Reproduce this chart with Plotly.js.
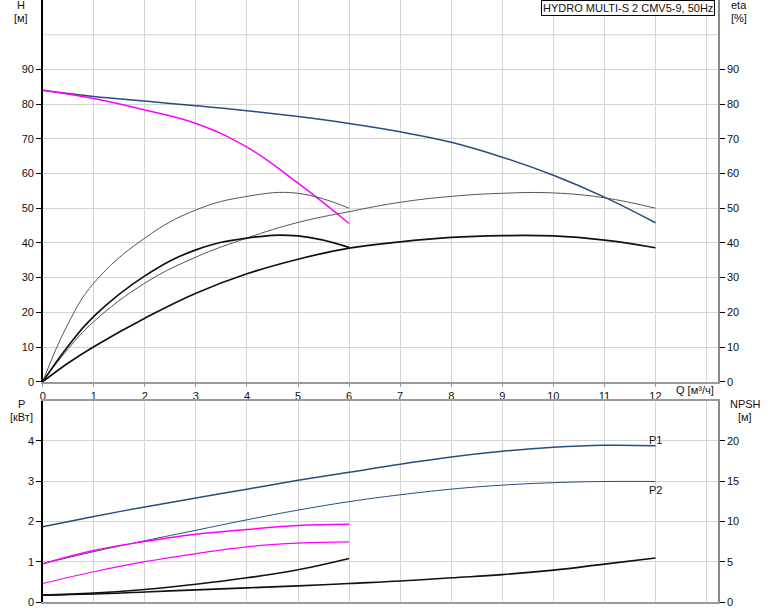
<!DOCTYPE html>
<html>
<head>
<meta charset="utf-8">
<script src="https://cdn.plot.ly/plotly-3.0.1.min.js"></script>
<style>html,body{margin:0;padding:0;background:#fff;}#chart{width:774px;height:611px;}</style>
</head>
<body>
<div id="chart"></div>
<script>
// ---- data ----
const Q = [0,1,2,3,4,5,6,7,8,9,10,11,12];
const Qr = [0,1,2,3,4,5,6];
const QEta = [0,0.5,1,2,3,4,5,6,7,8,9,10,11,12];
const QrEta = [0,0.5,1,2,3,4,5,6];

const H = [84,82.2,80.9,79.5,78.1,76.4,74.4,72,69,64.7,59.5,53.2,45.8];
const Hr = [84,81.6,78.3,74.4,67.6,57.2,45.6];

const etaA = [0,16.8,28.4,41.4,49.5,53.4,54.3,50];
const etaB = [0,10.3,18.8,30.5,38,41.4,42,38.7];
const etaC = [0,9.5,17.3,28.4,35.9,41.4,45.9,49,51.7,53.4,54.3,54.4,53,50];
const etaD = [0,5.4,10.1,18.3,25.5,31.1,35.3,38.5,40.3,41.6,42.1,42,40.8,38.6];

const P1 = [1.87,2.12,2.36,2.58,2.8,3.02,3.22,3.42,3.6,3.74,3.84,3.89,3.88];
const P2 = [0.95,1.25,1.52,1.78,2.04,2.28,2.49,2.66,2.8,2.9,2.96,2.99,2.99];
const P1r = [0.95,1.28,1.5,1.68,1.8,1.9,1.93];
const P2r = [0.46,0.75,1.0,1.2,1.37,1.46,1.49];

const NPSH = [0.85,1.0,1.25,1.5,1.75,2.0,2.3,2.6,3.0,3.4,3.95,4.7,5.45];
const NPSHr = [0.85,1.1,1.55,2.2,3.0,4.0,5.4];

const xTicks = [0,1,2,3,4,5,6,7,8,9,10,11,12];
const hTicks = [0,10,20,30,40,50,60,70,80,90];
const pTicks = [0,1,2,3,4];
const nTicks = [0,5,10,15,20];

// ---- plot ----
const blue = '#244e7d';
const mag = '#ff00ff';
function ln(color,width,s){return {color:color,width:width,shape:'spline',smoothing:(s===undefined?1.2:s)};}

const traces = [
  {x:QEta, y:etaC, xaxis:'x', yaxis:'y2', mode:'lines', line:ln('#555',1)},
  {x:QEta, y:etaD, xaxis:'x', yaxis:'y2', mode:'lines', line:ln('#111',1.7)},
  {x:QrEta, y:etaA, xaxis:'x', yaxis:'y2', mode:'lines', line:ln('#555',1)},
  {x:QrEta, y:etaB, xaxis:'x', yaxis:'y2', mode:'lines', line:ln('#111',1.7)},
  {x:Q, y:H, xaxis:'x', yaxis:'y', mode:'lines', line:ln(blue,1.5)},
  {x:Qr, y:Hr, xaxis:'x', yaxis:'y', mode:'lines', line:ln(mag,1.5)},

  {x:Q, y:P1, xaxis:'x2', yaxis:'y3', mode:'lines', line:ln(blue,1.5)},
  {x:Q, y:P2, xaxis:'x2', yaxis:'y3', mode:'lines', line:ln(blue,1)},
  {x:Qr, y:P1r, xaxis:'x2', yaxis:'y3', mode:'lines', line:ln(mag,1.5)},
  {x:Qr, y:P2r, xaxis:'x2', yaxis:'y3', mode:'lines', line:ln(mag,1.2)},
  {x:Q, y:NPSH, xaxis:'x2', yaxis:'y4', mode:'lines', line:ln('#111',1.6)},
  {x:Qr, y:NPSHr, xaxis:'x2', yaxis:'y4', mode:'lines', line:ln('#111',1.6)}
];

const xd = [42.7/774, 718.3/774];
const topD = [1-381.7/611, 1];
const botD = [1-602/611, 1-400.5/611];
const tf = {family:'Liberation Sans, Arial, sans-serif', size:11, color:'#111'};
const grid = '#d4d4d4';

const layout = {
  width:774, height:611,
  margin:{l:0,r:0,t:0,b:0},
  paper_bgcolor:'#fff', plot_bgcolor:'#fff',
  showlegend:false,
  font:tf,
  xaxis:{domain:xd, range:[0,13.23], anchor:'y', tickvals:xTicks, ticktext:xTicks.map(String),
    showgrid:true, gridcolor:grid, gridwidth:1, showline:true, linecolor:'#999', linewidth:2,
    ticks:'outside', ticklen:3, tickcolor:'#999', zeroline:false, tickfont:tf, mirror:false},
  yaxis:{domain:topD, range:[0,110], anchor:'x', tickvals:hTicks, ticktext:hTicks.map(String),
    showgrid:true, gridcolor:grid, showline:true, linecolor:'#000', linewidth:1.5,
    ticks:'outside', ticklen:5, tickcolor:'#000', zeroline:false, tickfont:tf},
  yaxis2:{overlaying:'y', side:'right', range:[0,110], anchor:'x', tickvals:hTicks,
    showgrid:false, showline:true, linecolor:'#888', linewidth:1.5,
    ticks:'outside', ticklen:5, tickcolor:'#000', zeroline:false, tickfont:tf},
  xaxis2:{domain:xd, range:[0,13.23], anchor:'y3', tickvals:xTicks.concat([13]), showticklabels:false,
    showgrid:true, gridcolor:grid, showline:true, linecolor:'#999', linewidth:2, mirror:true, zeroline:false},
  yaxis3:{domain:botD, range:[0,5], anchor:'x2', tickvals:pTicks, ticktext:pTicks.map(String),
    showgrid:true, gridcolor:grid, showline:true, linecolor:'#000', linewidth:1.5,
    ticks:'outside', ticklen:5, tickcolor:'#000', zeroline:false, tickfont:tf},
  yaxis4:{overlaying:'y3', side:'right', range:[0,25], anchor:'x2', tickvals:nTicks,
    showgrid:false, showline:true, linecolor:'#888', linewidth:1.5,
    ticks:'outside', ticklen:5, tickcolor:'#000', zeroline:false, tickfont:tf},
  shapes:[
    {type:'line', xref:'x', yref:'paper', x0:13, x1:13, y0:topD[0], y1:1, line:{color:grid,width:1}, layer:'below'},
    {type:'line', xref:'paper', yref:'y', x0:xd[0], x1:xd[1], y0:100, y1:100, line:{color:grid,width:1}, layer:'below'}
  ],
  annotations:[
    {xref:'paper', yref:'paper', x:715/774, y:1, xanchor:'right', yanchor:'top', showarrow:false,
      text:'HYDRO MULTI-S 2 CMV5-9, 50Hz', bgcolor:'#fff', bordercolor:'#000', borderwidth:1, borderpad:1, font:tf},
    {xref:'paper', yref:'paper', x:21/774, y:1-5/611, xanchor:'center', yanchor:'middle', showarrow:false, text:'H', font:tf},
    {xref:'paper', yref:'paper', x:21/774, y:1-18/611, xanchor:'center', yanchor:'middle', showarrow:false, text:'[м]', font:tf},
    {xref:'paper', yref:'paper', x:739/774, y:1-5/611, xanchor:'center', yanchor:'middle', showarrow:false, text:'eta', font:tf},
    {xref:'paper', yref:'paper', x:739/774, y:1-18/611, xanchor:'center', yanchor:'middle', showarrow:false, text:'[%]', font:tf},
    {xref:'paper', yref:'paper', x:695/774, y:1-390/611, xanchor:'center', yanchor:'middle', showarrow:false, text:'Q [м³/ч]', font:tf},
    {xref:'paper', yref:'paper', x:21/774, y:1-404/611, xanchor:'center', yanchor:'middle', showarrow:false, text:'P', font:tf},
    {xref:'paper', yref:'paper', x:21/774, y:1-417/611, xanchor:'center', yanchor:'middle', showarrow:false, text:'[кВт]', font:tf},
    {xref:'paper', yref:'paper', x:745/774, y:1-404/611, xanchor:'center', yanchor:'middle', showarrow:false, text:'NPSH', font:tf},
    {xref:'paper', yref:'paper', x:745/774, y:1-417/611, xanchor:'center', yanchor:'middle', showarrow:false, text:'[м]', font:tf},
    {xref:'x2', yref:'y3', x:Q[Q.length-1], y:P1[P1.length-1], xanchor:'left', yanchor:'bottom', xshift:-8, yshift:-2, showarrow:false, text:'P1', font:tf},
    {xref:'x2', yref:'y3', x:Q[Q.length-1], y:P2[P2.length-1], xanchor:'left', yanchor:'top', xshift:-8, yshift:0, showarrow:false, text:'P2', font:tf}
  ]
};

Plotly.newPlot('chart', traces, layout, {staticPlot:true, displayModeBar:false});
</script>
</body>
</html>
